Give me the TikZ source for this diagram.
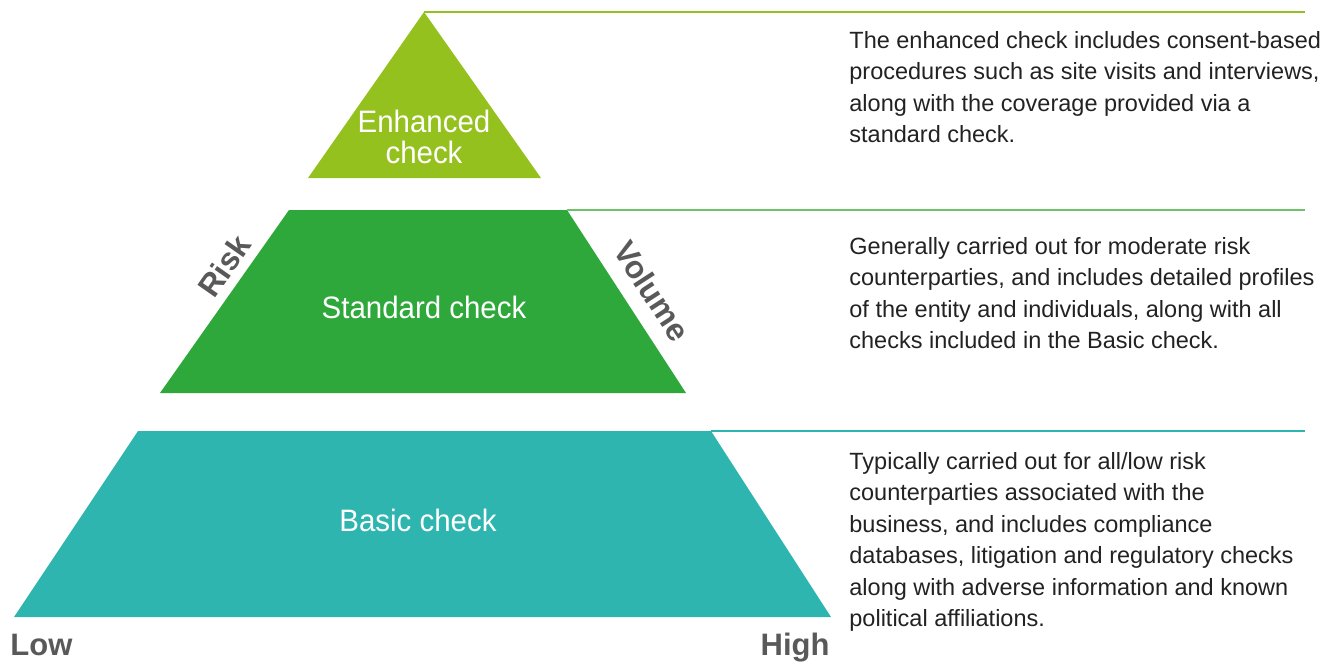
\documentclass[tikz,border=0pt]{standalone}
\usepackage{fontspec}
\setmainfont{Liberation Sans}
\newfontfamily\condfont[FakeStretch=0.95]{Liberation Sans}
\usepackage{xcolor}
\usetikzlibrary{positioning}

\definecolor{enhgreen}{HTML}{95C11F}
\definecolor{stdgreen}{HTML}{2EA83A}
\definecolor{stdline}{HTML}{6CC36A}
\definecolor{basicteal}{HTML}{2EB5B0}
\definecolor{axisgray}{HTML}{595959}
\definecolor{descgray}{HTML}{222222}

\tikzset{
  tierlabel/.style={text=white,align=center,inner sep=0pt,
    font=\condfont\fontsize{15.5}{15.5}\selectfont},
  desc/.style={anchor=north west,align=left,inner sep=0pt,text=descgray,
    font=\fontsize{11.75}{15.7}\selectfont},
  axislabel/.style={text=axisgray,inner sep=0pt,
    font=\bfseries\fontsize{15.5}{15.5}\selectfont},
  edgelabel/.style={text=axisgray,inner sep=0pt,
    font=\bfseries\fontsize{15.8}{15.8}\selectfont},
  leader/.style={line width=0.8pt}
}

\begin{document}
\begin{tikzpicture}[x=0.5pt,y=-0.5pt]
  \useasboundingbox (0,0) rectangle (1339,661);
  % the three tiers
  \fill[enhgreen] (424,12) coordinate (enh top) -- (541,178) -- (308,178) -- cycle;
  \fill[stdgreen] (289,210) -- (567,210) coordinate (std top) -- (686,393) -- (160,393) -- cycle;
  \fill[basicteal] (138,431) -- (711,431) coordinate (bas top) -- (831,617) -- (14,617) -- cycle;
  \node[tierlabel] (enhanced) at (424,137) {Enhanced\\check};
  \node[tierlabel] (standard) at (424,307) {Standard check};
  \node[tierlabel] (basic) at (418,520) {Basic check};
  % leader lines to the right
  \coordinate (enh end) at (1305,12);
  \coordinate (std end) at (1305,210);
  \coordinate (bas end) at (1305,431);
  \draw[leader,enhgreen] (enh top) -- (enh end);
  \draw[leader,stdline] (std top) -- (std end);
  \draw[leader,basicteal] (bas top) -- (bas end);
  % descriptions
  \node[desc] (enhanced text) at (849,31) {The enhanced check includes consent-based\\
    procedures such as site visits and interviews,\\
    along with the coverage provided via a\\
    standard check.};
  \node[desc] (standard text) at (849,237) {Generally carried out for moderate risk\\
    counterparties, and includes detailed profiles\\
    of the entity and individuals, along with all\\
    checks included in the Basic check.};
  \node[desc] (basic text) at (849,452) {Typically carried out for all/low risk\\
    counterparties associated with the\\
    business, and includes compliance\\
    databases, litigation and regulatory checks\\
    along with adverse information and known\\
    political affiliations.};
  % axes
  \node[edgelabel,rotate=55] (risk) at (224,266) {Risk};
  \node[edgelabel,rotate=-57] (volume) at (652,291) {Volume};
  \node[axislabel,anchor=base west] (low) at (10,655) {Low};
  \node[axislabel,anchor=base east] (high) at (830,655) {High};
\end{tikzpicture}
\end{document}
